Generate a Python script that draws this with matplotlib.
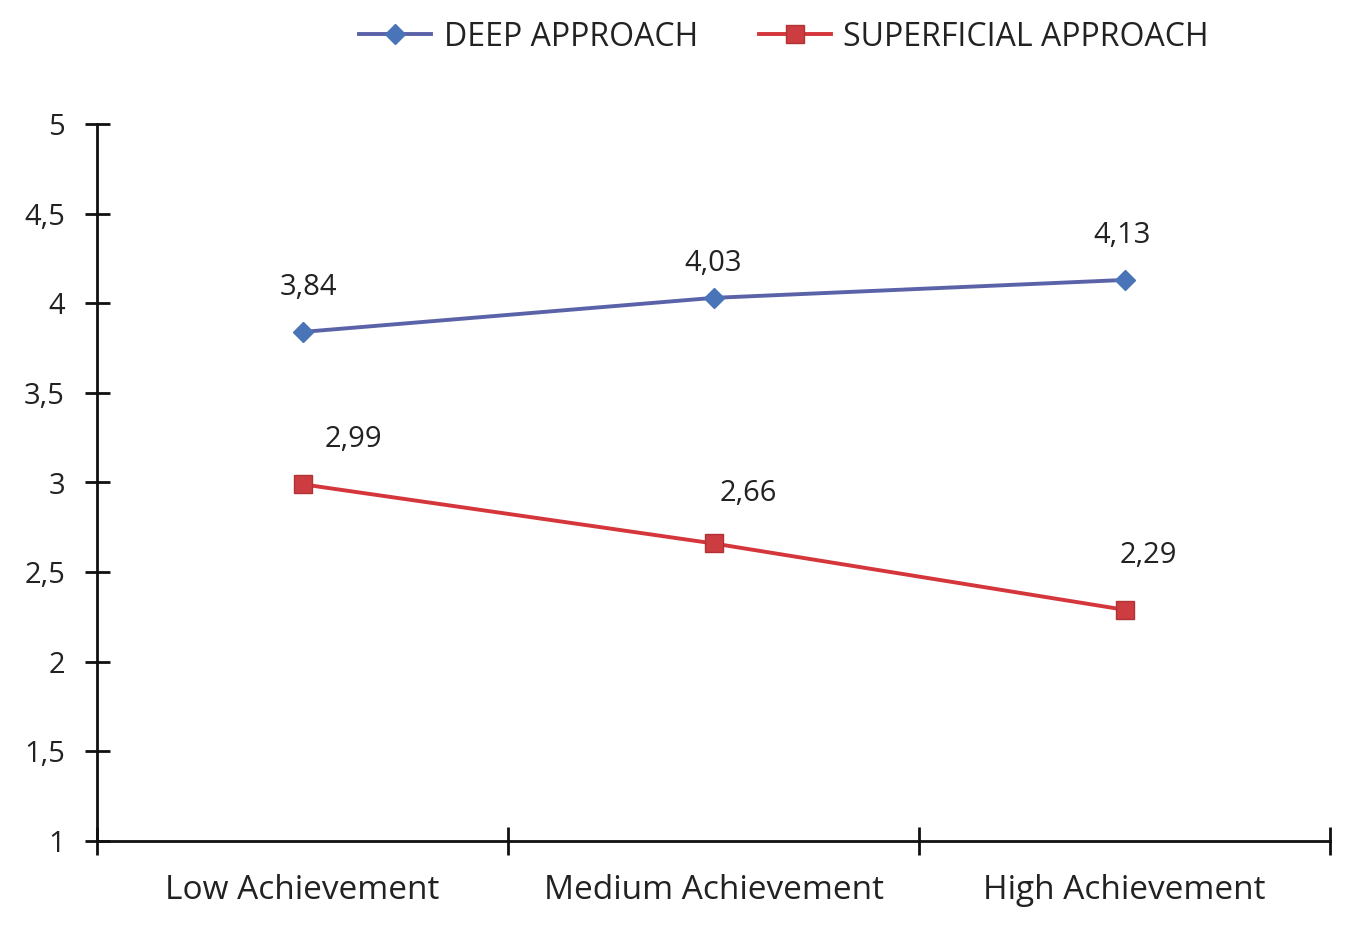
import numpy as np
import matplotlib
matplotlib.use('Agg')
import matplotlib.pyplot as plt

# Data
categories = ['Low Achievement', 'Medium Achievement', 'High Achievement']
deep = [3.84, 4.03, 4.13]
superficial = [2.99, 2.66, 2.29]
yticks = [1, 1.5, 2, 2.5, 3, 3.5, 4, 4.5, 5]

plt.rcParams['font.family'] = ['Open Sans', 'DejaVu Sans']

fig = plt.figure(figsize=(13.51, 9.38), dpi=100)
ax = fig.add_axes([97 / 1351, 97 / 938, 1233 / 1351, 717 / 938])

x = np.arange(len(categories))
ax.plot(x, deep, '-', color='#5B63A8', lw=2.8, marker='D', ms=10,
        mfc='#4A74B8', mec='#4A74B8', label='DEEP APPROACH')
ax.plot(x, superficial, '-', color='#D4363B', lw=2.8, marker='s', ms=13,
        mfc='#CC3C40', mec='#B03236', label='SUPERFICIAL APPROACH')

# etiquetas de datos
deep_off = [(4, 32), (0, 24.5), (-2, 32)]
sup_off = [(37, 32), (25, 36), (17, 39)]
for i, v in enumerate(deep):
    ax.annotate(f'{v:.2f}'.replace('.', ','), (x[i], v), xytext=deep_off[i],
                textcoords='offset points', ha='center', va='center',
                fontsize=21, color='#222222')
for i, v in enumerate(superficial):
    ax.annotate(f'{v:.2f}'.replace('.', ','), (x[i], v), xytext=sup_off[i],
                textcoords='offset points', ha='center', va='center',
                fontsize=21, color='#222222')

ax.set_xlim(-0.5, 2.5)
ax.set_ylim(1, 5)
ax.set_yticks(yticks)
ax.set_yticklabels([f'{t:g}'.replace('.', ',') for t in yticks])
ax.set_xticks([-0.5, 0.5, 1.5, 2.5])
ax.set_xticklabels([])
ax.set_xticks(x, minor=True)
ax.set_xticklabels(categories, minor=True)

for s in ['top', 'right']:
    ax.spines[s].set_visible(False)
for s in ['left', 'bottom']:
    ax.spines[s].set_linewidth(2)
    ax.spines[s].set_color('#111111')

ax.tick_params(axis='y', direction='inout', length=18, width=2, pad=14,
               labelsize=21, labelcolor='#222222', color='#111111')
ax.tick_params(axis='x', which='major', direction='inout', length=20, width=2,
               color='#111111')
ax.tick_params(axis='x', which='minor', length=0, pad=24, labelsize=24,
               labelcolor='#222222')

fig.legend(loc='center', bbox_to_anchor=(784 / 1351, 1 - 37 / 938), ncol=2,
           frameon=False, fontsize=23, handlelength=2.25, columnspacing=1.9,
           handletextpad=0.4, labelcolor='#222222')

fig.savefig('out.png', dpi=100, facecolor='white')
